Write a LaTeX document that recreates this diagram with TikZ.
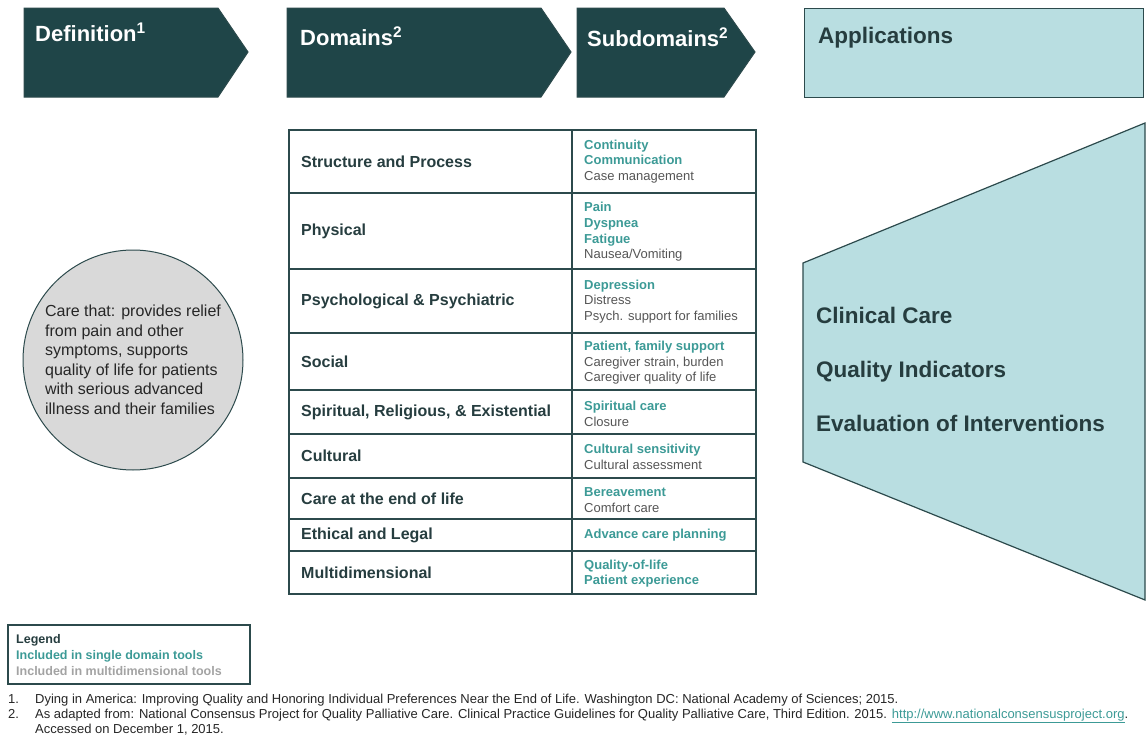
\documentclass[tikz,border=0pt]{standalone}
\usepackage{fontspec}
\setmainfont{Liberation Sans}
\definecolor{darkteal}{HTML}{1F4548}
\definecolor{lightteal}{HTML}{B9DEE1}
\definecolor{tealtext}{HTML}{3C9A96}
\definecolor{greytext}{HTML}{555555}
\definecolor{inktext}{HTML}{263D3F}
\definecolor{legendgrey}{HTML}{A3A3A3}
\definecolor{rulecol}{HTML}{2C4A4C}
\tikzset{
  arrowbox/.style={fill=darkteal, draw=rulecol, line width=1pt},
  header/.style={anchor=base west, inner sep=0pt, font=\fontsize{22}{26}\selectfont\bfseries, text=white},
  domaintext/.style={anchor=west, inner sep=0pt, font=\fontsize{16}{18}\selectfont\bfseries, text=inktext},
  subdomtext/.style={anchor=west, inner sep=0pt, align=left, font=\fontsize{13}{15.6}\selectfont},
  appl/.style={anchor=base west, inner sep=0pt, font=\fontsize{22.5}{26}\selectfont\bfseries, text=inktext},
  legendtext/.style={anchor=base west, inner sep=0pt, font=\fontsize{12.5}{15}\selectfont\bfseries},
  note/.style={anchor=base west, inner sep=0pt, font=\fontsize{13}{15}\selectfont, text=black!85},
}
\newcommand{\single}[1]{{\color{tealtext}\bfseries #1}}
\newcommand{\multi}[1]{{\color{greytext}#1}}
\begin{document}
\begin{tikzpicture}[x=1pt, y=-1pt]
  \useasboundingbox (0,0) rectangle (1146,736);
  % header arrows
  \draw[arrowbox] (24,8) -- (218,8) -- (248,52) -- (218,97) -- (24,97) -- cycle;
  \draw[arrowbox] (287,8) -- (541,8) -- (571,52) -- (541,97) -- (287,97) -- cycle;
  \draw[arrowbox] (577,8) -- (724,8) -- (755,52) -- (724,97) -- (577,97) -- cycle;
  \draw[fill=lightteal, draw=rulecol, line width=1pt] (804,8) rectangle (1143,97);
  \node[header] (def) at (35,41) {Definition\textsuperscript{1}};
  \node[header] (dom) at (300,45) {Domains\textsuperscript{2}};
  \node[header] (sub) at (587,46) {Subdomains\textsuperscript{2}};
  \node[appl] (app) at (818,43) {Applications};

  % definition
  \node[circle, minimum size=220, inner sep=0pt, fill=black!15, draw=rulecol, line width=1pt,
        align=left, font=\fontsize{16}{19.5}\selectfont, text=black!85] (care) at (133,360)
    {Care that: provides relief\\from pain and other\\symptoms, supports\\quality of life for patients\\with serious advanced\\illness and their families};

  % table
  \begin{scope}[draw=rulecol, line width=1.6pt]
    \draw (289,130) rectangle (756,594);
    \draw (572,130) -- (572,594);
    \draw (289,193) -- (756,193);
    \draw (289,269) -- (756,269);
    \draw (289,333) -- (756,333);
    \draw (289,390) -- (756,390);
    \draw (289,434) -- (756,434);
    \draw (289,478) -- (756,478);
    \draw (289,519) -- (756,519);
    \draw (289,551) -- (756,551);
  \end{scope}
  \node[domaintext] (d1) at (301,161.5) {Structure and Process};
  \node[domaintext] (d2) at (301,231) {Physical};
  \node[domaintext] (d3) at (301,301) {Psychological \& Psychiatric};
  \node[domaintext] (d4) at (301,361.5) {Social};
  \node[domaintext] (d5) at (301,412) {Spiritual, Religious, \& Existential};
  \node[domaintext] (d6) at (301,456) {Cultural};
  \node[domaintext] (d7) at (301,498.5) {Care at the end of life};
  \node[domaintext] (d8) at (301,535) {Ethical and Legal};
  \node[domaintext] (d9) at (301,572.5) {Multidimensional};
  \node[subdomtext] (s1) at (584,161.5) {\single{Continuity}\\\single{Communication}\\\multi{Case management}};
  \node[subdomtext] (s2) at (584,232) {\single{Pain}\\\single{Dyspnea}\\\single{Fatigue}\\\multi{Nausea/Vomiting}};
  \node[subdomtext] (s3) at (584,301.5) {\single{Depression}\\\multi{Distress}\\\multi{Psych. support for families}};
  \node[subdomtext] (s4) at (584,363) {\single{Patient, family support}\\\multi{Caregiver strain, burden}\\\multi{Caregiver quality of life}};
  \node[subdomtext] (s5) at (584,414) {\single{Spiritual care}\\\multi{Closure}};
  \node[subdomtext] (s6) at (584,457) {\single{Cultural sensitivity}\\\multi{Cultural assessment}};
  \node[subdomtext] (s7) at (584,500) {\single{Bereavement}\\\multi{Comfort care}};
  \node[subdomtext] (s8) at (584,535.5) {\single{Advance care planning}};
  \node[subdomtext] (s9) at (584,573.5) {\single{Quality-of-life}\\\single{Patient experience}};

  % applications
  \draw[fill=lightteal, draw=rulecol, line width=1.2pt] (803,263) -- (1145,123) -- (1145,600) -- (803,462) -- cycle;
  \node[appl] (a1) at (816,323) {Clinical Care};
  \node[appl] (a2) at (816,377) {Quality Indicators};
  \node[appl] (a3) at (816,431) {Evaluation of Interventions};

  % legend and notes
  \draw[draw=rulecol, line width=1.2pt] (8,625) rectangle (250,684);
  \node[legendtext, text=inktext] (lgd) at (16,643) {Legend};
  \node[legendtext, text=tealtext] (lgdsingle) at (16,659) {Included in single domain tools};
  \node[legendtext, text=legendgrey] (lgdmulti) at (16,675) {Included in multidimensional tools};
  \node[note] (n1) at (8,703) {1.};
  \node[note] (t1) at (35,703) {Dying in America: Improving Quality and Honoring Individual Preferences Near the End of Life. Washington DC: National Academy of Sciences; 2015.};
  \node[note] (n2) at (8,718) {2.};
  \node[note] (t2) at (35,718) {As adapted from: National Consensus Project for Quality Palliative Care. Clinical Practice Guidelines for Quality Palliative Care, Third Edition. 2015. {\color{tealtext}\underline{http://www.nationalconsensusproject.org}}.};
  \node[note] (t3) at (35,733) {Accessed on December 1, 2015.};
\end{tikzpicture}
\end{document}
